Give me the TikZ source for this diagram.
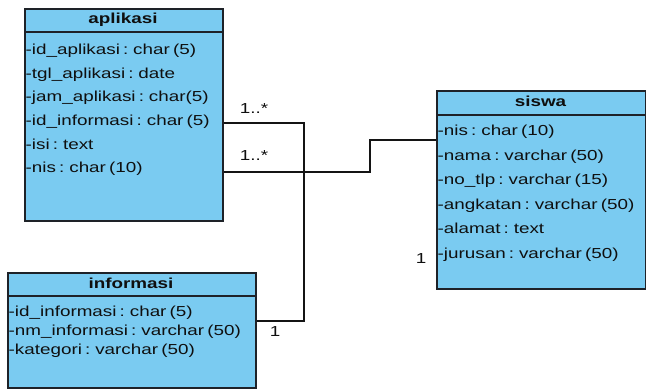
\documentclass[tikz,border=0pt]{standalone}
\usepackage{fontspec}
\setmainfont{Liberation Sans}[FakeStretch=1.3,WordSpace=0.6]
\definecolor{classfill}{RGB}{122,203,241}
\definecolor{boxline}{RGB}{30,34,40}
\definecolor{linec}{RGB}{20,20,20}
\definecolor{textc}{RGB}{15,15,15}
\tikzset{
  classbox/.style={draw=boxline, line width=1.6pt, fill=classfill, inner sep=0pt, anchor=north west},
  classtitle/.style={font=\fontsize{14.5}{16}\selectfont\bfseries, text=textc, inner sep=0pt, text height=10.4pt, text depth=3.1pt},
  attr/.style={font=\fontsize{14.5}{16}\selectfont, text=textc, inner sep=0pt, anchor=west, text height=10.4pt, text depth=3.1pt},
  sepline/.style={draw=boxline, line width=1.2pt},
  conn/.style={draw=linec, line width=1.3pt},
  mult/.style={font=\fontsize{14.5}{16}\selectfont, text=textc, inner sep=0pt, text height=10.4pt, text depth=3.1pt}
}
\begin{document}
\begin{tikzpicture}[x=1pt,y=-1pt]
\useasboundingbox (0,0) rectangle (646,389);
% aplikasi
\node[classbox, minimum width=198pt, minimum height=212pt] (apl) at (24,8) {};
\node[classtitle] (aplt) at (123,20) {aplikasi};
\draw[sepline] (24,32) -- (222,32);
\node[attr] (apl1) at (25.5,51) {-id\_aplikasi : char (5)};
\node[attr] (apl2) at (25.5,74.6) {-tgl\_aplikasi : date};
\node[attr] (apl3) at (25.5,98.2) {-jam\_aplikasi : char(5)};
\node[attr] (apl4) at (25.5,121.8) {-id\_informasi : char (5)};
\node[attr] (apl5) at (25.5,145.4) {-isi : text};
\node[attr] (apl6) at (25.5,169) {-nis : char (10)};
% siswa
\node[classbox, minimum width=209pt, minimum height=198pt] (sis) at (436,90) {};
\node[classtitle] (sist) at (540.5,103) {siswa};
\draw[sepline] (436,115) -- (645,115);
\node[attr] (sis1) at (437.5,132) {-nis : char (10)};
\node[attr] (sis2) at (437.5,156.5) {-nama : varchar (50)};
\node[attr] (sis3) at (437.5,181) {-no\_tlp : varchar (15)};
\node[attr] (sis4) at (437.5,205.5) {-angkatan : varchar (50)};
\node[attr] (sis5) at (437.5,230) {-alamat : text};
\node[attr] (sis6) at (437.5,254.5) {-jurusan : varchar (50)};
% informasi
\node[classbox, minimum width=248pt, minimum height=115pt] (inf) at (7,272) {};
\node[classtitle] (inft) at (131,285) {informasi};
\draw[sepline] (7,296) -- (255,296);
\node[attr] (inf1) at (8.5,313) {-id\_informasi : char (5)};
\node[attr] (inf2) at (8.5,332) {-nm\_informasi : varchar (50)};
\node[attr] (inf3) at (8.5,351) {-kategori : varchar (50)};
% connectors
\coordinate (c1) at (304,123);
\coordinate (c2) at (304,321);
\coordinate (c3) at (370,172);
\coordinate (c4) at (370,140);
\draw[conn] (apl.east |- c1) -- (c1) -- (c2) -- (inf.east |- c2);
\draw[conn] (apl.east |- c3) -- (c3) -- (c4) -- (sis.west |- c4);
% multiplicities
\node[mult] (m1) at (254,110) {1..*};
\node[mult] (m2) at (254,157) {1..*};
\node[mult] (m3) at (275,333) {1};
\node[mult] (m4) at (421,260) {1};
\end{tikzpicture}
\end{document}
